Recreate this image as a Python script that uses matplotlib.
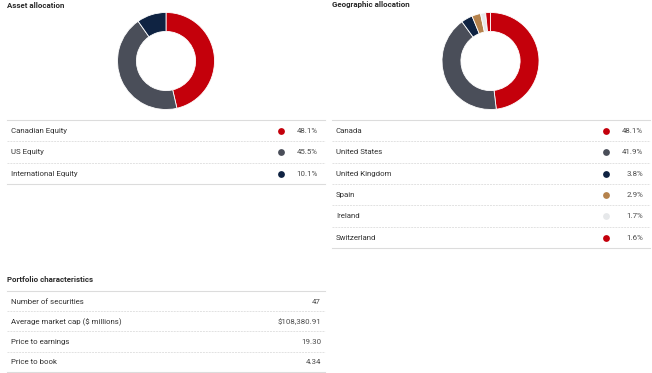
import numpy as np
import matplotlib.pyplot as plt

# Asset allocation data
asset_labels = ["Canadian Equity", "US Equity", "International Equity"]
asset_values = [48.1, 45.5, 10.1]
asset_colors = ["#c4000b", "#4a4e59", "#0f2342"]

# Geographic allocation data
geo_labels = ["Canada", "United States", "United Kingdom", "Spain", "Ireland", "Switzerland"]
geo_values = [48.1, 41.9, 3.8, 2.9, 1.7, 1.6]
geo_colors = ["#c4000b", "#4a4e59", "#0f2342", "#b5824c", "#e6e8ea", "#c4000b"]

# Portfolio characteristics
char_labels = ["Number of securities", "Average market cap ($ millions)",
               "Price to earnings", "Price to book"]
char_values = ["47", "$108,380.91", "19.30", "4.34"]

W, H = 652, 373
plt.rcParams['font.family'] = ['Roboto', 'DejaVu Sans']

fig = plt.figure(figsize=(W / 100, H / 100), dpi=100)
ax = fig.add_axes([0, 0, 1, 1])
ax.set_xlim(0, W)
ax.set_ylim(H, 0)
ax.axis('off')

text_col = "#333333"
val_col = "#4d4d4d"
line_solid = "#dcdcdc"
line_dash = "#e2e2e2"
fs = 5.7


def donut(cx, cy, r, values, colors):
    pax = fig.add_axes([(cx - r) / W, 1 - (cy + r) / H, 2 * r / W, 2 * r / H])
    pax.pie(values, colors=colors, startangle=90, counterclock=False,
            wedgeprops=dict(width=0.39, edgecolor='white', linewidth=0.6))
    pax.set_xlim(-1.01, 1.01)
    pax.set_ylim(-1.01, 1.01)
    pax.set_aspect('equal')
    pax.axis('off')


def table(x0, x1, y0, row_h, labels, values, colors=None, val_x=None, dot_x=None):
    ax.plot([x0, x1], [y0, y0], color=line_solid, lw=0.8)
    for i, (lab, val) in enumerate(zip(labels, values)):
        yc = y0 + row_h * (i + 0.5) + 0.5
        ax.text(x0 + 4, yc, lab, fontsize=fs, color=text_col, va='center', ha='left')
        ax.text(val_x, yc, val, fontsize=fs, color=val_col, va='center', ha='right')
        if colors is not None:
            ax.scatter([dot_x], [yc], s=24, color=colors[i], zorder=3, linewidths=0)
        yb = y0 + row_h * (i + 1)
        if i == len(labels) - 1:
            ax.plot([x0, x1], [yb, yb], color=line_solid, lw=0.8)
        else:
            ax.plot([x0, x1], [yb, yb], color=line_dash, lw=0.7, ls=(0, (2, 1)))


# titles
title_kw = dict(fontsize=5.7, fontweight='semibold', color="#2a2a2a", va='center')
ax.text(7, 5, "Asset allocation", **title_kw)
ax.text(332, 5, "Geographic allocation", **title_kw)
ax.text(7, 279, "Portfolio characteristics", **title_kw)

donut(166, 61, 49, asset_values, asset_colors)
donut(490.5, 61, 49, geo_values, geo_colors)

table(7, 325, 120, 21.3, asset_labels, [f"{v:.1f}%" for v in asset_values],
      asset_colors, val_x=318, dot_x=281)
table(332, 650, 120, 21.3, geo_labels, [f"{v:.1f}%" for v in geo_values],
      geo_colors, val_x=643, dot_x=606)
table(7, 325, 291, 20.2, char_labels, char_values, val_x=321)

fig.savefig("out.png", dpi=100, facecolor='white')
